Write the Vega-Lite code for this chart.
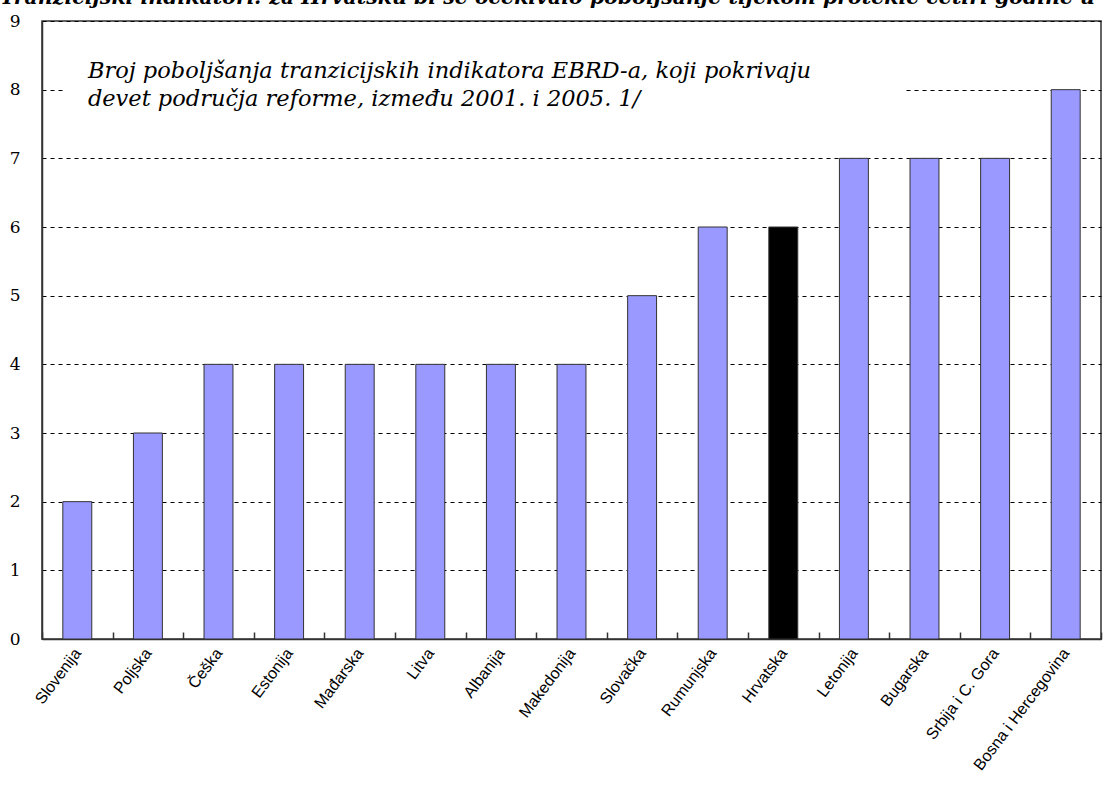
{
  "$schema": "https://vega.github.io/schema/vega-lite/v6.json",
  "width": 1059,
  "height": 618,
  "autosize": {"type": "none"},
  "padding": {"left": 42, "top": 21, "right": 11, "bottom": 166},
  "background": "white",
  "title": {
    "text": "Tranzicijski indikatori: za Hrvatsku bi se očekivalo poboljšanje tijekom protekle četiri godine u",
    "anchor": "start",
    "frame": "group",
    "dx": -42,
    "offset": -12,
    "baseline": "alphabetic",
    "font": "DejaVu Serif",
    "fontStyle": "italic",
    "fontWeight": "bold",
    "fontSize": 20.5,
    "color": "black"
  },
  "config": {
    "view": {"stroke": "#333", "strokeWidth": 1.5}
  },
  "layer": [
    {
      "data": {
        "values": [
          {"country": "Slovenija", "value": 2},
          {"country": "Poljska", "value": 3},
          {"country": "Češka", "value": 4},
          {"country": "Estonija", "value": 4},
          {"country": "Mađarska", "value": 4},
          {"country": "Litva", "value": 4},
          {"country": "Albanija", "value": 4},
          {"country": "Makedonija", "value": 4},
          {"country": "Slovačka", "value": 5},
          {"country": "Rumunjska", "value": 6},
          {"country": "Hrvatska", "value": 6},
          {"country": "Letonija", "value": 7},
          {"country": "Bugarska", "value": 7},
          {"country": "Srbija i C. Gora", "value": 7},
          {"country": "Bosna i Hercegovina", "value": 8}
        ]
      },
      "mark": {"type": "bar", "width": {"band": 0.41}, "stroke": "#333", "strokeWidth": 1},
      "encoding": {
        "x": {
          "field": "country",
          "type": "nominal",
          "sort": null,
          "scale": {
            "domain": ["Slovenija", "Poljska", "Češka", "Estonija", "Mađarska", "Litva", "Albanija", "Makedonija", "Slovačka", "Rumunjska", "Hrvatska", "Letonija", "Bugarska", "Srbija i C. Gora", "Bosna i Hercegovina"],
            "paddingInner": 0,
            "paddingOuter": 0
          },
          "axis": {
            "title": null,
            "labelAngle": -53,
            "labelFont": "Liberation Sans",
            "labelFontSize": 16,
            "labelColor": "black",
            "labelPadding": 18,
            "tickBand": "extent",
            "tickSize": -7,
            "tickColor": "#333",
            "tickWidth": 1.5,
            "domainColor": "#333",
            "domainWidth": 1.5,
            "grid": false
          }
        },
        "y": {
          "field": "value",
          "type": "quantitative",
          "scale": {"domain": [0, 9], "nice": false},
          "axis": {
            "title": null,
            "values": [0, 1, 2, 3, 4, 5, 6, 7, 8, 9],
            "format": "d",
            "labelFont": "DejaVu Serif",
            "labelFontSize": 17,
            "labelColor": "black",
            "labelPadding": 22,
            "ticks": false,
            "domainColor": "#333",
            "domainWidth": 1.5,
            "grid": true,
            "gridColor": "black",
            "gridDash": [4, 4],
            "gridWidth": 1
          }
        },
        "color": {
          "condition": {"test": "datum.country === 'Hrvatska'", "value": "black"},
          "value": "#9999ff"
        }
      }
    },
    {
      "data": {"values": [{"from": "Slovenija", "to": "Bugarska", "lo": 7.5, "hi": 8.7}]},
      "mark": {"type": "rect", "fill": "white"},
      "encoding": {
        "x": {"field": "from", "type": "nominal", "bandPosition": 0.33},
        "x2": {"field": "to", "bandPosition": 0.23},
        "y": {"field": "lo", "type": "quantitative"},
        "y2": {"field": "hi"}
      }
    },
    {
      "data": {"values": [{"anchor": "Slovenija", "level": 8.17, "note": "Broj poboljšanja tranzicijskih indikatora EBRD-a, koji pokrivaju\ndevet područja reforme, između 2001. i 2005. 1/"}]},
      "mark": {
        "type": "text",
        "align": "left",
        "baseline": "alphabetic",
        "lineBreak": "\n",
        "lineHeight": 28,
        "font": "DejaVu Serif",
        "fontStyle": "italic",
        "fontSize": 22.5,
        "color": "black"
      },
      "encoding": {
        "x": {"field": "anchor", "type": "nominal", "bandPosition": 0.65},
        "y": {"field": "level", "type": "quantitative"},
        "text": {"field": "note"}
      }
    }
  ]
}
